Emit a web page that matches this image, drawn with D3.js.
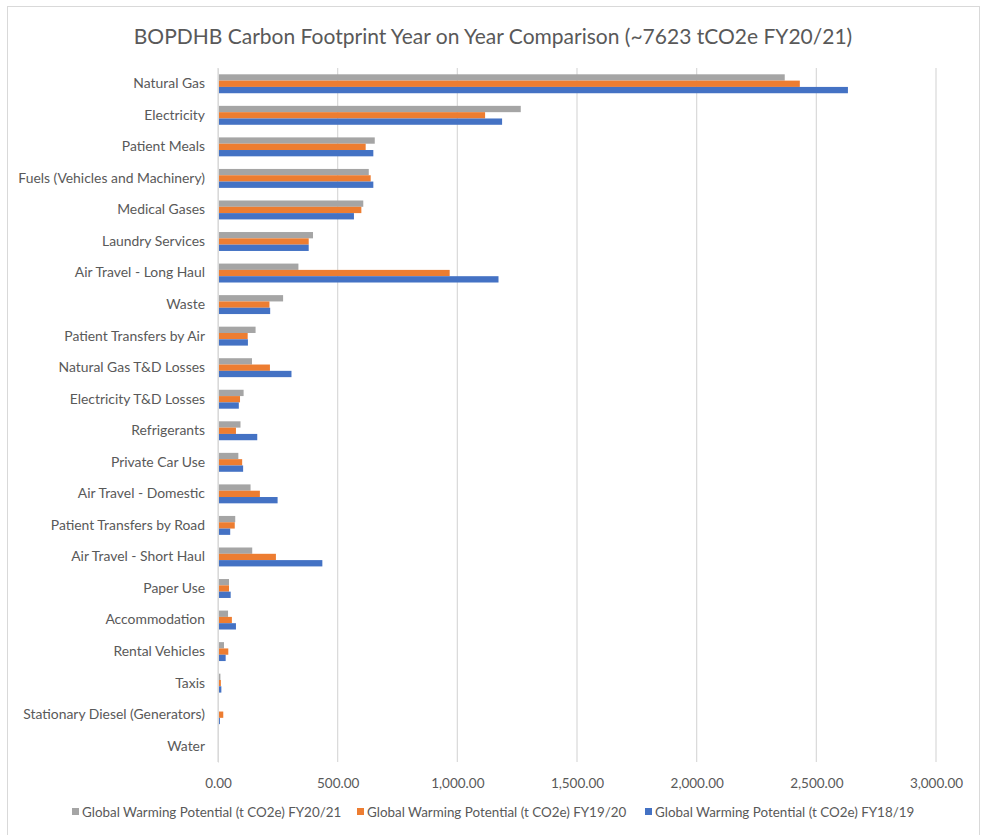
<!DOCTYPE html>
<html><head><meta charset="utf-8">
<script src="https://cdn.jsdelivr.net/npm/d3@7"></script>
<style>body{margin:0;background:#fff;} text{font-family:Lato,"Open Sans",sans-serif;}</style>
</head><body>
<svg id="c" width="984" height="835"></svg>
<script>
const categories = ["Natural Gas","Electricity","Patient Meals","Fuels (Vehicles and Machinery)","Medical Gases","Laundry Services","Air Travel - Long Haul","Waste","Patient Transfers by Air","Natural Gas T&D Losses","Electricity T&D Losses","Refrigerants","Private Car Use","Air Travel - Domestic","Patient Transfers by Road","Air Travel - Short Haul","Paper Use","Accommodation","Rental Vehicles","Taxis","Stationary Diesel (Generators)","Water"];
const fy2021 = [2368,1265,655,630,607,397,336,272,157,142,107,94,85,136,72,143,46,42,25,10,3,1];
const fy1920 = [2431,1116,617,638,599,379,968,215,124,217,92,75,101,175,70,242,46,58,43,12,22,1];
const fy1819 = [2632,1187,649,649,568,379,1172,218,125,307,87,164,105,249,51,436,53,75,32,14,8,1];
const seriesNames = ["Global Warming Potential (t CO2e) FY20/21","Global Warming Potential (t CO2e) FY19/20","Global Warming Potential (t CO2e) FY18/19"];
const xTicks = [0,500,1000,1500,2000,2500,3000];
const title = "BOPDHB Carbon Footprint Year on Year Comparison (~7623 tCO2e FY20/21)";
const colors = ["#A5A5A5","#ED7D31","#4472C4"];

const series = [fy2021, fy1920, fy1819];
const svg = d3.select("#c");
// chart border
svg.append("rect").attr("x",7.5).attr("y",6.5).attr("width",972).attr("height",840).attr("fill","#fff").attr("stroke","#d9d9d9");

const x = d3.scaleLinear().domain([0,3000]).range([218,936]);
const y = d3.scaleBand().domain(categories).range([68,762]).paddingInner(0.4).paddingOuter(0.2);
const y1 = d3.scaleBand().domain([0,1,2]).range([0,y.bandwidth()]);

// gridlines
svg.append("g").selectAll("line").data(xTicks).join("line")
  .attr("x1",d=>x(d)).attr("x2",d=>x(d)).attr("y1",68).attr("y2",762)
  .attr("stroke","#d9d9d9").attr("stroke-width",1.2);

// bars
const g = svg.append("g");
categories.forEach((c,i)=>{
  series.forEach((s,j)=>{
    g.append("rect").attr("x",x(0)).attr("y",y(c)+y1(j)).attr("height",y1.bandwidth())
      .attr("width",Math.max(0,x(s[i])-x(0))).attr("fill",colors[j]);
  });
});

// x axis labels
const xAxis = d3.axisBottom(x).tickValues(xTicks).tickSize(0).tickFormat(d3.format(",.2f"));
const xa = svg.append("g").attr("transform","translate(0,775)").call(xAxis);
xa.select(".domain").remove();
xa.selectAll("text").attr("fill","#595959").style("font-size","13.5px").style("font-family","Lato");

// y axis labels
const yAxis = d3.axisLeft(y).tickSize(0).tickPadding(13);
const ya = svg.append("g").attr("transform","translate(218,0)").call(yAxis);
ya.select(".domain").attr("stroke","#d9d9d9");
ya.selectAll("text").attr("fill","#595959").style("font-size","13.9px").style("font-family","Lato");

// title
svg.append("text").attr("x",493).attr("y",44).attr("text-anchor","middle")
  .attr("fill","#595959").style("font-size","21px").text(title);

// legend
const legX = [72,357,645];
const leg = svg.append("g");
seriesNames.forEach((n,j)=>{
  leg.append("rect").attr("x",legX[j]).attr("y",808).attr("width",7).attr("height",7).attr("fill",colors[j]);
  leg.append("text").attr("x",legX[j]+10).attr("y",816.5).attr("fill","#595959").style("font-size","13.4px").text(n);
});
</script>
</body></html>
